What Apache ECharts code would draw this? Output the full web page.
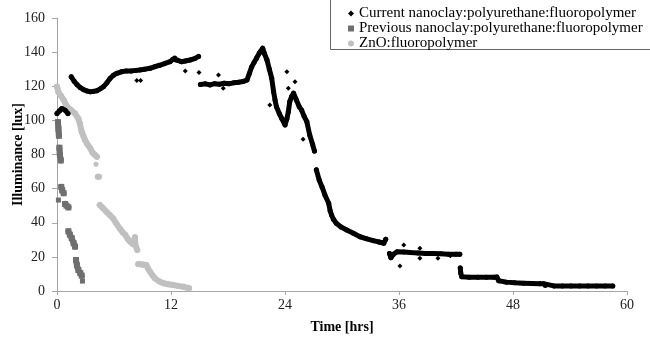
<!DOCTYPE html>
<html>
<head>
<meta charset="utf-8">
<script src="https://cdn.jsdelivr.net/npm/echarts@6/dist/echarts.min.js"></script>
<style>
  html, body { margin: 0; padding: 0; background: #fff; }
  #chart { width: 650px; height: 337px; }
</style>
</head>
<body>
<div id="chart"></div>
<script>
const seriesNames = [
  'Current nanoclay:polyurethane:fluoropolymer',
  'Previous nanoclay:polyurethane:fluoropolymer',
  'ZnO:fluoropolymer',
]
const xTicks = [0, 12, 24, 36, 48, 60]
const yTicks = [0, 20, 40, 60, 80, 100, 120, 140, 160]

// [hrs, lux] – each inner array is one unbroken run of readings
const currentSegments = [
  [[0, 104], [0.25, 105.5], [0.5, 107], [0.85, 106], [1.15, 104]],
  [[1.5, 125.5], [1.8, 123], [2.1, 121], [2.45, 119.2], [2.8, 118], [3.15, 117.2], [3.5, 116.8], [3.85, 117],
    [4.2, 117.4], [4.55, 118.5], [4.9, 119.8], [5.25, 122], [5.6, 124.7], [5.95, 126.5], [6.3, 127.6], [6.8, 128.5],
    [7.3, 129], [7.8, 129], [8.3, 129.3], [8.7, 129.5], [9.2, 130], [9.8, 130.5], [10.3, 131.5], [10.8, 132.3],
    [11.3, 133.2], [11.9, 134.4], [12.2, 135.8], [12.4, 136.5], [12.7, 135.2], [13.1, 134.4], [13.5, 134.8],
    [14, 135.4], [14.5, 136.2], [14.9, 137.5]],
  [[15.1, 121], [15.6, 121.4], [16.1, 120.8], [16.6, 121.5], [17.1, 121.2], [17.6, 121.8], [18.1, 121.5],
    [18.6, 122], [19.1, 122.3], [19.6, 122.8], [20, 123.7], [20.25, 127.5], [20.5, 131.5], [20.75, 134],
    [21, 136.4], [21.3, 139.5], [21.65, 142.3], [21.85, 139], [22.1, 135.4], [22.35, 130], [22.6, 124.7],
    [22.8, 116.8], [22.95, 112], [23.1, 108], [23.4, 104], [23.65, 101.2], [24, 97.3], [24.2, 101], [24.35, 105],
    [24.5, 111], [24.7, 114], [24.9, 115.9], [25.2, 112], [25.5, 108], [25.75, 106], [26, 102.5], [26.3, 99.2],
    [26.6, 91.4], [26.9, 86], [27.1, 82]],
  [[27.3, 71], [27.6, 65], [27.9, 61], [28.2, 56.3], [28.6, 51.4], [28.75, 47], [28.9, 44.5], [29.1, 42],
    [29.4, 39.7], [29.9, 37.5], [30.5, 35.8], [31.2, 33.8], [31.9, 31.8], [32.6, 30.6], [33.3, 29.5], [33.9, 28.7],
    [34.4, 28], [34.6, 30.3]],
  [[35, 22], [35.15, 19.5], [35.4, 21.5], [35.8, 23], [36.5, 22.8], [37.2, 22.5], [38, 22.3], [38.8, 22],
    [39.6, 22], [40.4, 21.8], [41.2, 21.6], [42, 21.5], [42.4, 21.5]],
  [[42.45, 13.5], [42.5, 10.5], [42.6, 8.4], [43.4, 8], [44.3, 8], [45.2, 8], [46, 8], [46.3, 8.2], [46.5, 6],
    [47.3, 5.2], [48.2, 4.8], [49.1, 4.6], [50, 4.4], [50.8, 4.3], [51.2, 4.3], [51.4, 3.2], [52.3, 3], [53.2, 3],
    [54.1, 3], [55, 2.9], [55.9, 2.9], [56.8, 3], [57.7, 3], [58.5, 3]],
]
const currentStray = [
  [8.4, 123.3], [8.8, 123.3], [13.5, 129], [14.95, 128], [17, 126.6], [17.5, 118.8], [22.4, 109], [24.2, 128.5],
  [24.35, 118.8], [25.05, 122.7], [25.9, 88.9], [36.1, 14.7], [36.5, 27], [38.2, 25], [38.2, 19.2], [40.1, 19.2],
  [41.4, 20.7],
]

const previousSegments = [
  [[0.1, 99], [0.15, 95], [0.2, 91]],
  [[0.25, 84], [0.3, 80], [0.4, 76.5]],
  [[0.45, 61], [0.55, 59], [0.7, 57.3]],
  [[0.85, 51], [1.0, 50], [1.2, 49]],
  [[1.2, 35], [1.35, 33], [1.55, 31], [1.75, 28], [1.9, 26]],
  [[2.0, 18.2], [2.1, 15], [2.25, 12.3], [2.45, 10.5], [2.6, 9]],
]
const previousStray = [[0.15, 53.3], [2.68, 5.8]]

const znoSegments = [
  [[0, 119.8], [0.15, 116.5], [0.4, 114.5], [0.7, 112], [1.0, 108.5], [1.25, 107], [1.5, 106], [1.9, 104],
    [2.25, 101], [2.4, 98.3], [2.6, 93.4], [2.8, 90.5], [2.95, 88.5], [3.2, 86], [3.5, 83.6], [3.75, 81],
    [4.0, 79.7], [4.2, 78.7]],
  [[4.3, 67], [4.4, 67]],
  [[4.5, 50.4], [4.85, 48.5], [5.2, 46.5], [5.55, 44.5], [5.9, 42.6], [6.25, 39.5], [6.6, 36.7], [6.9, 34.5],
    [7.2, 32.8], [7.45, 30.5], [7.7, 28.9], [8.0, 27.5], [8.2, 31.5], [8.25, 27], [8.45, 24]],
  [[8.55, 15.8], [9.0, 15.5], [9.4, 15.2], [9.6, 13], [9.8, 11.3], [10.05, 9.2], [10.3, 7.4], [10.8, 5.5],
    [11.2, 4.5], [11.7, 4], [12.2, 3.5], [12.75, 3], [13.3, 2.5], [13.9, 1.6]],
]
const znoStray = [[4.1, 74.3]]

const font = '"Liberation Serif", "Times New Roman", serif'
const colors = ['#000000', '#6f6f6f', '#c0c0c0']

function runs(name, segs, color, width, symbol, size, z) {
  return segs.map((seg) => ({
    name: name,
    type: 'line',
    data: seg,
    symbol: symbol,
    symbolSize: size,
    showSymbol: true,
    z: z,
    silent: true,
    animation: false,
    itemStyle: { color: color },
    lineStyle: { color: color, width: width, cap: 'round', join: 'round' },
  }))
}

function dots(name, pts, color, symbol, size, z) {
  return {
    name: name,
    type: 'scatter',
    data: pts,
    symbol: symbol,
    symbolSize: size,
    z: z,
    silent: true,
    animation: false,
    itemStyle: { color: color, opacity: 1 },
  }
}

const myChart = echarts.init(document.getElementById('chart'))
let seriesList = []
seriesList = seriesList.concat(runs(seriesNames[2], znoSegments, colors[2], 6, 'circle', 6, 2))
seriesList.push(dots(seriesNames[2], znoStray, colors[2], 'circle', 5, 2))
seriesList = seriesList.concat(runs(seriesNames[1], previousSegments, colors[1], 6, 'rect', 6, 3))
seriesList.push(dots(seriesNames[1], previousStray, colors[1], 'rect', 5, 3))
seriesList = seriesList.concat(runs(seriesNames[0], currentSegments, colors[0], 5, 'circle', 5, 4))
seriesList.push(dots(seriesNames[0], currentStray, colors[0], 'diamond', 5, 4))

let option = {
  backgroundColor: '#ffffff',
  animation: false,
  grid: {
    left: 57,
    right: 23,
    top: 18,
    bottom: 46,
    containLabel: false,
    outerBoundsMode: 'none',
  },
  legend: {
    orient: 'vertical',
    left: 343,
    top: 1,
    itemWidth: 6,
    itemHeight: 6,
    itemGap: 0,
    selectedMode: false,
    data: [
      { name: seriesNames[0], icon: 'diamond' },
      { name: seriesNames[1], icon: 'rect' },
      { name: seriesNames[2], icon: 'circle' },
    ],
    textStyle: {
      fontFamily: font,
      fontSize: 15,
      lineHeight: 14,
      color: '#000',
    },
  },
  // legend frame: only the left and bottom edges show
  graphic: [
    { type: 'line', shape: { x1: 330.5, y1: 0, x2: 330.5, y2: 49.5 }, style: { stroke: '#666', lineWidth: 1 } },
    { type: 'line', shape: { x1: 330.5, y1: 49.5, x2: 650, y2: 49.5 }, style: { stroke: '#666', lineWidth: 1 } },
  ],
  xAxis: {
    type: 'value',
    min: xTicks[0],
    max: xTicks[xTicks.length - 1],
    interval: xTicks[1] - xTicks[0],
    name: 'Time [hrs]',
    nameLocation: 'middle',
    nameGap: 29,
    nameMoveOverlap: false,
    nameTextStyle: { fontFamily: font, fontSize: 14, fontWeight: 'bold', color: '#000' },
    axisLine: { lineStyle: { color: '#a6a6a6', width: 1 } },
    axisTick: { show: true, length: 4, lineStyle: { color: '#a6a6a6' } },
    axisLabel: { fontFamily: font, fontSize: 14, color: '#222', margin: 7 },
    splitLine: { show: false },
  },
  yAxis: {
    type: 'value',
    min: yTicks[0],
    max: yTicks[yTicks.length - 1],
    interval: yTicks[1] - yTicks[0],
    name: 'Illuminance [lux]',
    nameLocation: 'middle',
    nameGap: 32,
    nameMoveOverlap: false,
    nameTextStyle: { fontFamily: font, fontSize: 14, fontWeight: 'bold', color: '#000' },
    axisLine: { show: true, lineStyle: { color: '#a6a6a6', width: 1 } },
    axisTick: { show: true, length: 5, lineStyle: { color: '#a6a6a6' } },
    axisLabel: { fontFamily: font, fontSize: 14, color: '#222', margin: 12 },
    splitLine: { show: false },
  },
  series: seriesList,
}
myChart.setOption(option)
window.addEventListener('resize', () => {
  myChart.resize()
})
</script>
</body>
</html>
